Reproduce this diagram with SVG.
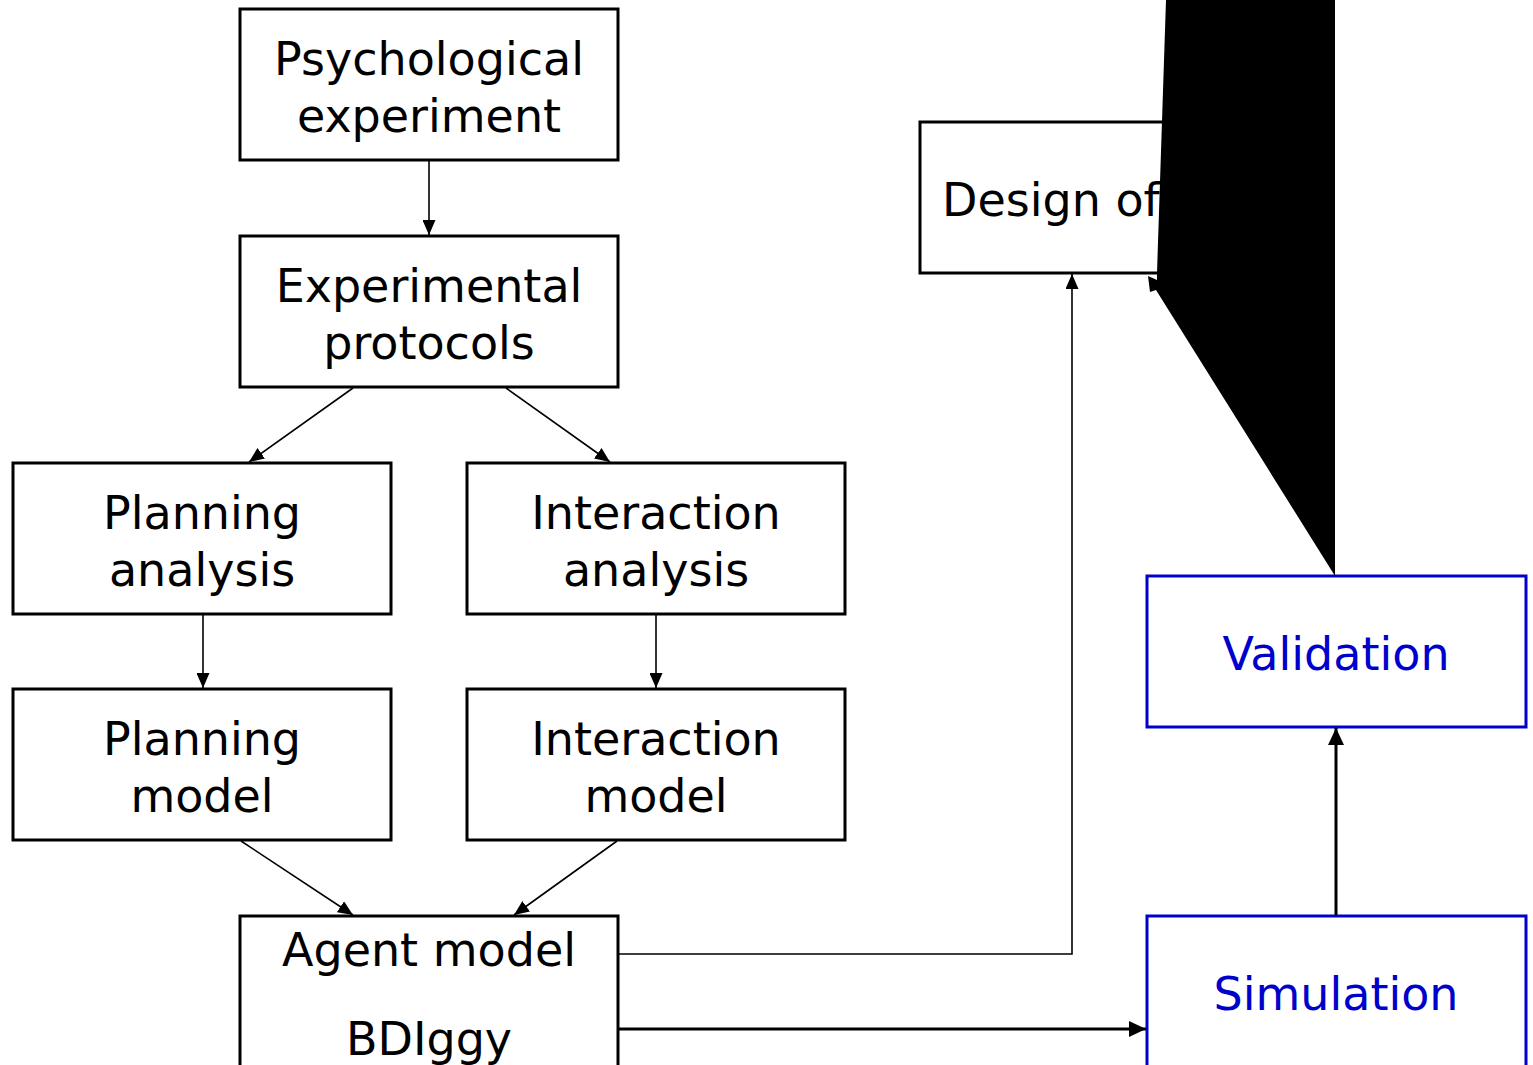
<svg xmlns="http://www.w3.org/2000/svg" width="1533" height="1065" viewBox="0 0 1533 1065">
  <defs>
    <style>
      .box { fill: #ffffff; stroke: #000000; stroke-width: 3; }
      .box.blue { stroke: #0000cc; }
      .label { font-family: "DejaVu Sans", "Liberation Sans", sans-serif; font-size: 46px; fill: #000000; text-anchor: middle; }
      .label.blue { fill: #0000cc; }
      .edge { fill: none; stroke: #000000; stroke-width: 1.6; marker-end: url(#head); }
      .edge.thick { stroke-width: 3; marker-end: url(#head-lg); }
    </style>
    <marker id="head" viewBox="0 0 15 13" refX="15" refY="6.5" markerWidth="15" markerHeight="13" markerUnits="userSpaceOnUse" orient="auto">
      <path d="M0,0 L15,6.5 L0,13 Z" fill="#000000"/>
    </marker>
    <marker id="head-lg" viewBox="0 0 17 16" refX="17" refY="8" markerWidth="17" markerHeight="16" markerUnits="userSpaceOnUse" orient="auto">
      <path d="M0,0 L17,8 L0,16 Z" fill="#000000"/>
    </marker>
  </defs>
  <rect width="1533" height="1065" fill="#ffffff"/>

  <g id="psychological-experiment">
    <rect class="box" x="240" y="9" width="378" height="151"/>
    <text class="label" x="429" y="75">Psychological</text>
    <text class="label" x="429" y="132">experiment</text>
  </g>

  <g id="experimental-protocols">
    <rect class="box" x="240" y="236" width="378" height="151"/>
    <text class="label" x="429" y="302">Experimental</text>
    <text class="label" x="429" y="359">protocols</text>
  </g>

  <g id="planning-analysis">
    <rect class="box" x="13" y="463" width="378" height="151"/>
    <text class="label" x="202" y="529">Planning</text>
    <text class="label" x="202" y="586">analysis</text>
  </g>

  <g id="interaction-analysis">
    <rect class="box" x="467" y="463" width="378" height="151"/>
    <text class="label" x="656" y="529">Interaction</text>
    <text class="label" x="656" y="586">analysis</text>
  </g>

  <g id="planning-model">
    <rect class="box" x="13" y="689" width="378" height="151"/>
    <text class="label" x="202" y="755">Planning</text>
    <text class="label" x="202" y="812">model</text>
  </g>

  <g id="interaction-model">
    <rect class="box" x="467" y="689" width="378" height="151"/>
    <text class="label" x="656" y="755">Interaction</text>
    <text class="label" x="656" y="812">model</text>
  </g>

  <g id="agent-model">
    <rect class="box" x="240" y="916" width="378" height="200"/>
    <text class="label" x="429" y="966">Agent model</text>
    <text class="label" x="429" y="1055">BDIggy</text>
  </g>

  <g id="design">
    <rect class="box" x="920" y="122" width="378" height="151"/>
    <text class="label" x="942" y="216" style="text-anchor: start">Design of</text>
  </g>

  <g id="validation">
    <rect class="box blue" x="1147" y="576" width="379" height="151"/>
    <text class="label blue" x="1336" y="670">Validation</text>
  </g>

  <g id="simulation">
    <rect class="box blue" x="1147" y="916" width="379" height="200"/>
    <text class="label blue" x="1336" y="1010">Simulation</text>
  </g>

  <g id="connectors">
    <line class="edge" x1="429" y1="161" x2="429" y2="235"/>
    <line class="edge" x1="353" y1="388" x2="249" y2="462"/>
    <line class="edge" x1="506" y1="388" x2="610" y2="462"/>
    <line class="edge" x1="203" y1="615" x2="203" y2="688"/>
    <line class="edge" x1="656" y1="615" x2="656" y2="688"/>
    <line class="edge" x1="241" y1="841" x2="353" y2="915"/>
    <line class="edge" x1="617" y1="841" x2="514" y2="915"/>
    <polyline class="edge" points="619,954 1072,954 1072,274"/>
    <line class="edge thick" x1="619" y1="1029" x2="1146" y2="1029"/>
    <line class="edge thick" x1="1336" y1="915" x2="1336" y2="728"/>
    <!-- filled return path from Validation up to the design box -->
    <path d="M1166,0 H1335 V576 L1156,290 L1150,292 L1148,276 L1157,280 L1157,273 Z" fill="#000000"/>
  </g>
</svg>
